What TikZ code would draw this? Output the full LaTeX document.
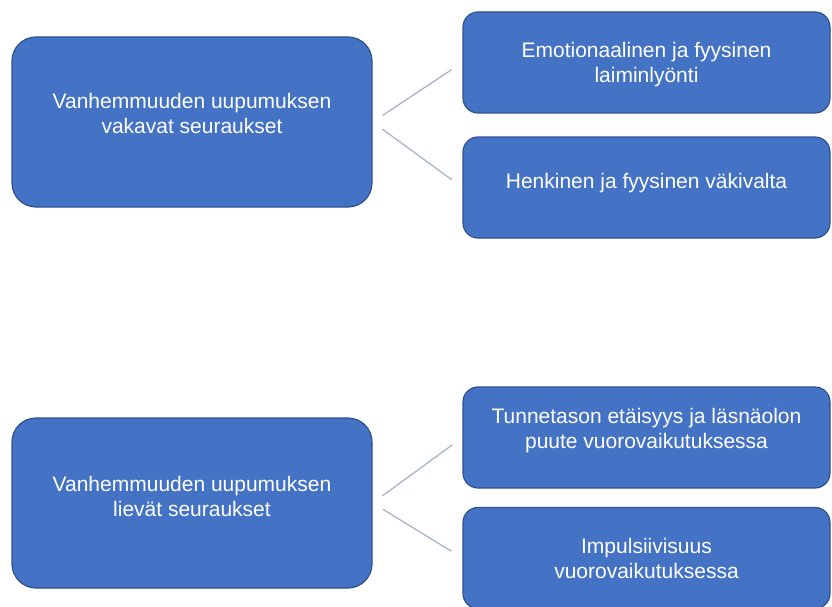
\documentclass[tikz,border=0pt]{standalone}
\usepackage{fontspec}
\setmainfont{Liberation Sans}
\definecolor{boxfill}{HTML}{4472C4}
\definecolor{boxline}{HTML}{2F528F}
\definecolor{linkgray}{HTML}{A8B4CC}
\begin{document}
\begin{tikzpicture}[x=1pt,y=-1pt]
\useasboundingbox (0,0) rectangle (832,607);
\tikzstyle{every node}=[draw=boxline,fill=boxfill,line width=1.2pt,text=white,align=center,
  font=\fontsize{21}{25}\selectfont,inner sep=0pt]
\tikzstyle{cause}=[rounded corners=24pt,minimum width=360pt,minimum height=170pt]
\tikzstyle{effect}=[rounded corners=15pt,minimum width=367pt,minimum height=101pt]
\tikzstyle{link}=[draw=linkgray,line width=1.3pt,shorten <=12pt,shorten >=13pt]
% left column
\path (192,122) node [cause] (sev) {Vanhemmuuden uupumuksen\\vakavat seuraukset\\[-7pt]};
\path (192,503) node [cause] (mild) {Vanhemmuuden uupumuksen\\lievät seuraukset\\[-11pt]};
% right column
\path (646.5,62.5) node [effect] (neg) {\\[-6pt]Emotionaalinen ja fyysinen\\laiminlyönti};
\path (646.5,187.5) node [effect] (vio) {Henkinen ja fyysinen väkivalta\\[-12pt]};
\path (646.5,437.5) node [effect] (dist) {Tunnetason etäisyys ja läsnäolon\\puute vuorovaikutuksessa\\[-6pt]};
\path (646.5,558) node [effect] (imp) {Impulsiivisuus\\vuorovaikutuksessa};
\foreach \a/\b in {sev/neg, sev/vio, mild/dist, mild/imp}{
\draw [link] (\a.east) -- (\b.west);}
\end{tikzpicture}
\end{document}
